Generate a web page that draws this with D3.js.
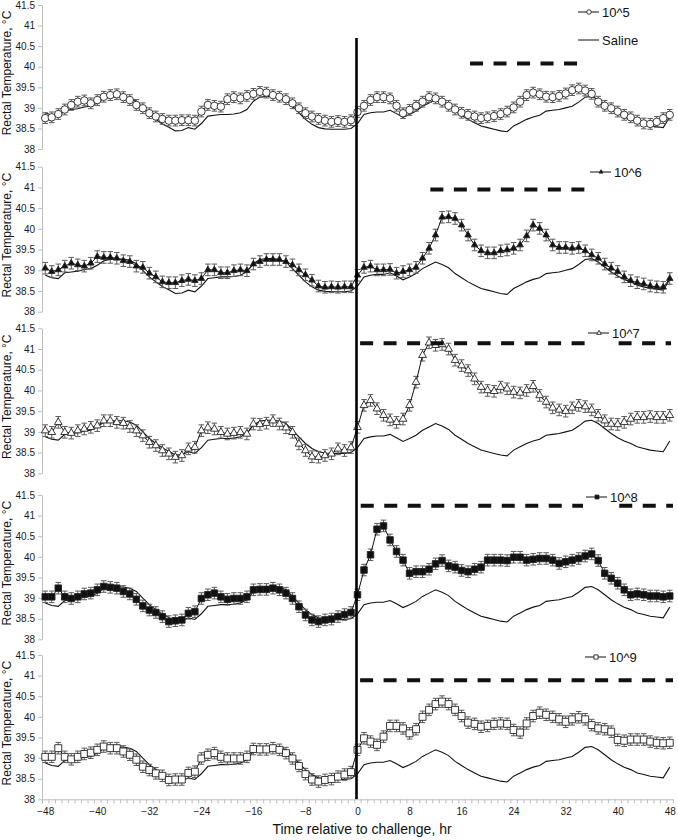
<!DOCTYPE html>
<html><head><meta charset="utf-8">
<script src="https://cdn.jsdelivr.net/npm/d3@7"></script>
<style>body{margin:0;background:#fff}svg{display:block}</style>
</head><body>
<svg id="chart" width="678" height="840"></svg>
<script>
// ---------------- data ----------------
const hours = d3.range(-48, 49); // hourly categories, -48 .. 48
const xTickLabels = [-48,-40,-32,-24,-16,-8,0,8,16,24,32,40,48];
const yTickValues = [38,38.5,39,39.5,40,40.5,41,41.5];
const doseNames = ["10^5","10^6","10^7","10^8","10^9"];

const saline = [
 38.88,38.82,38.80,38.94,38.96,38.98,39.02,39.04,39.12,39.23,
 39.26,39.27,39.27,39.24,39.16,39.00,38.84,38.72,38.61,38.53,
 38.44,38.45,38.52,38.48,38.62,38.80,38.82,38.84,38.84,38.85,
 38.88,38.96,39.16,39.26,39.28,39.28,39.26,39.20,39.04,38.88,
 38.72,38.60,38.52,38.49,38.48,38.48,38.48,38.50,
 38.62,
 38.84,38.88,38.90,38.90,38.94,38.86,38.77,38.84,38.92,39.04,
 39.12,39.20,39.14,39.06,38.92,38.82,38.72,38.64,38.56,38.52,
 38.48,38.44,38.42,38.56,38.64,38.72,38.78,38.82,38.92,38.94,
 38.96,39.00,39.04,39.14,39.26,39.28,39.20,39.08,38.96,38.86,
 38.78,38.72,38.64,38.60,38.56,38.54,38.52,38.78];

const dose1e5 = [
 38.75,38.77,38.85,38.96,39.07,39.15,39.18,39.11,39.19,39.27,
 39.31,39.33,39.26,39.19,39.07,38.99,38.87,38.79,38.73,38.69,
 38.69,38.70,38.70,38.69,38.91,39.07,39.05,39.03,39.21,39.26,
 39.23,39.29,39.34,39.39,39.37,39.31,39.27,39.21,39.11,38.99,
 38.87,38.79,38.73,38.69,38.66,38.68,38.66,38.70,
 38.90,
 39.05,39.19,39.26,39.26,39.23,39.05,38.87,38.95,39.05,39.15,
 39.26,39.23,39.15,39.05,38.96,38.88,38.83,38.79,38.75,38.77,
 38.80,38.85,38.91,39.01,39.15,39.31,39.37,39.33,39.27,39.26,
 39.29,39.35,39.43,39.47,39.42,39.34,39.15,39.05,38.99,38.91,
 38.83,38.77,38.69,38.62,38.61,38.66,38.75,38.83];

const dose1e6 = [
 39.05,38.97,39.01,39.10,39.17,39.13,39.10,39.17,39.33,39.31,
 39.31,39.29,39.23,39.21,39.10,39.07,38.93,38.84,38.72,38.70,
 38.70,38.75,38.78,38.75,38.80,39.01,39.01,38.94,38.94,38.99,
 39.01,38.99,39.15,39.21,39.26,39.26,39.26,39.21,39.13,39.01,
 38.89,38.76,38.62,38.59,38.60,38.59,38.60,38.60,
 38.88,
 39.07,39.10,39.01,39.01,39.02,38.93,38.97,39.01,39.07,39.29,
 39.53,39.85,40.28,40.29,40.25,40.09,39.85,39.61,39.47,39.42,
 39.42,39.47,39.49,39.53,39.61,39.83,40.09,40.01,39.85,39.61,
 39.55,39.55,39.53,39.55,39.47,39.37,39.29,39.15,39.05,38.97,
 38.84,38.75,38.70,38.67,38.62,38.60,38.59,38.80];

const dose1e7 = [
 39.03,38.99,39.23,38.99,38.97,39.03,39.07,39.11,39.15,39.27,
 39.27,39.23,39.21,39.13,39.03,38.91,38.75,38.67,38.55,38.47,
 38.39,38.43,38.59,38.63,39.03,39.10,39.07,38.99,38.95,38.97,
 38.99,38.95,39.19,39.18,39.21,39.27,39.19,39.10,38.99,38.71,
 38.55,38.40,38.39,38.43,38.47,38.59,38.55,38.62,
 39.11,
 39.64,39.76,39.56,39.40,39.29,39.23,39.31,39.64,40.20,40.85,
 41.15,41.09,41.11,41.00,40.73,40.60,40.48,40.28,40.08,40.00,
 39.98,40.08,40.04,39.96,39.94,40.00,40.10,39.88,39.72,39.58,
 39.53,39.50,39.58,39.64,39.61,39.53,39.40,39.27,39.19,39.18,
 39.23,39.31,39.35,39.35,39.37,39.35,39.35,39.40];

const dose1e8 = [
 39.03,39.03,39.24,39.03,38.99,39.03,39.10,39.12,39.20,39.28,
 39.26,39.24,39.16,39.10,38.97,38.81,38.71,38.65,38.55,38.43,
 38.45,38.47,38.63,38.67,38.99,39.08,39.12,39.03,38.97,38.99,
 38.99,39.03,39.20,39.21,39.21,39.24,39.20,39.12,38.99,38.79,
 38.59,38.47,38.43,38.47,38.49,38.55,38.60,38.65,
 39.08,
 39.68,40.05,40.67,40.75,40.41,40.13,39.92,39.60,39.64,39.64,
 39.70,39.83,39.91,39.78,39.75,39.67,39.64,39.70,39.75,39.92,
 39.92,39.92,39.91,39.99,39.99,39.92,39.94,39.96,39.96,39.92,
 39.84,39.88,39.92,39.96,40.02,40.07,39.91,39.60,39.48,39.36,
 39.20,39.08,39.10,39.08,39.05,39.05,39.03,39.05];

const dose1e9 = [
 39.03,39.03,39.24,39.03,38.97,39.03,39.10,39.13,39.20,39.28,
 39.24,39.24,39.16,39.08,38.96,38.79,38.71,38.63,38.57,38.47,
 38.48,38.48,38.64,38.67,38.99,39.08,39.12,39.03,38.99,38.99,
 38.99,39.03,39.22,39.21,39.21,39.24,39.20,39.12,38.99,38.81,
 38.61,38.48,38.43,38.47,38.49,38.55,38.60,38.66,
 39.20,
 39.48,39.40,39.32,39.52,39.78,39.78,39.72,39.60,39.70,40.00,
 40.17,40.31,40.37,40.31,40.17,40.02,39.86,39.83,39.76,39.78,
 39.83,39.84,39.83,39.68,39.62,39.84,40.02,40.10,40.05,40.00,
 39.94,39.88,39.94,39.99,39.94,39.80,39.72,39.70,39.64,39.44,
 39.42,39.45,39.45,39.45,39.40,39.37,39.36,39.37];

const semByDose = [0.13, 0.14, 0.14, 0.14, 0.14];
// significance bars (hours start / end, level in °C)
const sigStart = [17.3, 11.2, 0.4, 0.5, 0.4];
const sigEnd   = [33.9, 35.0, 48.2, 48.5, 48.5];
const sigLevel = [40.08, 40.95, 41.14, 41.24, 40.89];

// ---------------- layout ----------------
const doseSeries = [dose1e5, dose1e6, dose1e7, dose1e8, dose1e9];
const markerKinds = ["circleOpen","triFilled","triOpen","sqFilled","sqOpen"];
const panelTop = [5, 166.7, 328.3, 495, 655];
const panelBottom = [149, 311.7, 473.3, 639.3, 799.3];
const legendX = [578, 590, 588, 586, 585];
const legendY = [12, 172, 333, 497, 657];

const svg = d3.select("#chart");
const FONT = "Arial, 'Liberation Sans', sans-serif";
const x = d3.scaleLinear().domain([-48.5, 48.5]).range([42, 673]);

function markerPath(kind, big) {
  const s = big ? 1 : 0.6;
  if (kind === "circleOpen") return d3.symbol(d3.symbolCircle, 44 * s * s)();
  if (kind === "triFilled") return d3.symbol(d3.symbolTriangle, 18 * s * s)();
  if (kind === "triOpen") return d3.symbol(d3.symbolTriangle, 26 * s * s)();
  if (kind === "sqFilled") return d3.symbol(d3.symbolSquare, 42 * s * s)();
  return d3.symbol(d3.symbolSquare, 48 * s * s)();
}
function markerFill(kind) { return kind.endsWith("Open") ? "#fff" : "#111"; }

doseSeries.forEach((vals, p) => {
  const y = d3.scaleLinear().domain([38, 41.5]).range([panelBottom[p], panelTop[p]]);
  const g = svg.append("g");
  const kind = markerKinds[p];
  const se = semByDose[p];

  // y axis
  const ax = g.append("g").attr("transform", `translate(${x.range()[0]},0)`)
    .call(d3.axisLeft(y).tickValues(yTickValues).tickSize(4).tickSizeOuter(0).tickPadding(3)
      .tickFormat(d3.format("")));
  ax.select(".domain").attr("stroke", "#bdbdbd");
  ax.selectAll(".tick line").attr("stroke", "#bdbdbd");
  ax.selectAll("text").attr("font-family", FONT).attr("font-size", 10).attr("fill", "#1a1a1a");

  // y title
  g.append("text")
    .attr("transform", `translate(11,${(panelTop[p] + panelBottom[p]) / 2 - 4}) rotate(-90)`)
    .attr("text-anchor", "middle").attr("font-family", FONT).attr("font-size", 12)
    .attr("fill", "#111").text("Rectal Temperature, °C");

  // saline line
  const line = d3.line().x((d, i) => x(hours[i])).y(d => y(d));
  g.append("path").datum(saline).attr("d", line)
    .attr("fill", "none").attr("stroke", "#111").attr("stroke-width", 1.1);

  // error bars
  const eb = g.append("g").attr("stroke", "#5a5a5a").attr("stroke-width", 1);
  vals.forEach((v, i) => {
    const cx = x(hours[i]);
    eb.append("line").attr("x1", cx).attr("x2", cx).attr("y1", y(v - se)).attr("y2", y(v + se));
    eb.append("line").attr("x1", cx - 2.8).attr("x2", cx + 2.8).attr("y1", y(v + se)).attr("y2", y(v + se));
    eb.append("line").attr("x1", cx - 2.8).attr("x2", cx + 2.8).attr("y1", y(v - se)).attr("y2", y(v - se));
  });

  // treatment line
  g.append("path").datum(vals).attr("d", line)
    .attr("fill", "none").attr("stroke", "#111").attr("stroke-width", 1);

  // markers
  g.append("g").selectAll("path").data(vals).join("path")
    .attr("transform", (d, i) => `translate(${x(hours[i])},${y(d)})`)
    .attr("d", markerPath(kind, true))
    .attr("fill", markerFill(kind)).attr("stroke", "#222").attr("stroke-width", 0.9);

  // significance dashed bar
  g.append("line")
    .attr("x1", x(sigStart[p])).attr("x2", x(sigEnd[p]))
    .attr("y1", y(sigLevel[p])).attr("y2", y(sigLevel[p]))
    .attr("stroke", "#111").attr("stroke-width", 4).attr("stroke-dasharray", "13,10.5");
});

// challenge line at time 0
svg.append("line")
  .attr("x1", x(0) - 1).attr("x2", x(0) - 1).attr("y1", 38).attr("y2", panelBottom[4])
  .attr("stroke", "#000").attr("stroke-width", 2.6);

// legends
doseSeries.forEach((vals, p) => {
  const lx = legendX[p], ly = legendY[p];
  const lg = svg.append("g");
  lg.append("rect").attr("x", lx - 3).attr("y", ly - 8).attr("width", 26).attr("height", 22).attr("fill", "#fff");
  lg.append("line").attr("x1", lx).attr("x2", lx + 21).attr("y1", ly).attr("y2", ly)
    .attr("stroke", "#111").attr("stroke-width", 1);
  lg.append("path").attr("transform", `translate(${lx + 11},${ly})`)
    .attr("d", markerPath(markerKinds[p], false))
    .attr("fill", markerFill(markerKinds[p])).attr("stroke", "#222").attr("stroke-width", 0.9);
  lg.append("text").attr("x", lx + 24).attr("y", ly).attr("dy", "0.36em")
    .attr("font-family", FONT).attr("font-size", 13).attr("fill", "#111").text(doseNames[p]);
  if (p === 0) {
    lg.append("line").attr("x1", lx).attr("x2", lx + 21).attr("y1", ly + 28).attr("y2", ly + 28)
      .attr("stroke", "#111").attr("stroke-width", 1);
    lg.append("text").attr("x", lx + 24).attr("y", ly + 28).attr("dy", "0.36em")
      .attr("font-family", FONT).attr("font-size", 13).attr("fill", "#111").text("Saline");
  }
});

// x axis (bottom panel only)
const xAxisY = panelBottom[4];
const minor = svg.append("g").attr("transform", `translate(0,${xAxisY})`)
  .call(d3.axisBottom(x).tickValues(d3.range(-48.5, 49, 1)).tickSize(4).tickSizeOuter(0).tickFormat(""));
minor.select(".domain").attr("stroke", "#bdbdbd");
minor.selectAll(".tick line").attr("stroke", "#bdbdbd");
const major = svg.append("g").attr("transform", `translate(0,${xAxisY})`)
  .call(d3.axisBottom(x).tickValues(xTickLabels).tickSize(0).tickPadding(9).tickFormat(d3.format("")));
major.select(".domain").remove();
major.selectAll("text").attr("font-family", FONT).attr("font-size", 10).attr("fill", "#1a1a1a");

svg.append("text").attr("x", 362).attr("y", 834).attr("text-anchor", "middle")
  .attr("font-family", FONT).attr("font-size", 14).attr("fill", "#111")
  .text("Time relative to challenge, hr");
</script>
</body></html>
